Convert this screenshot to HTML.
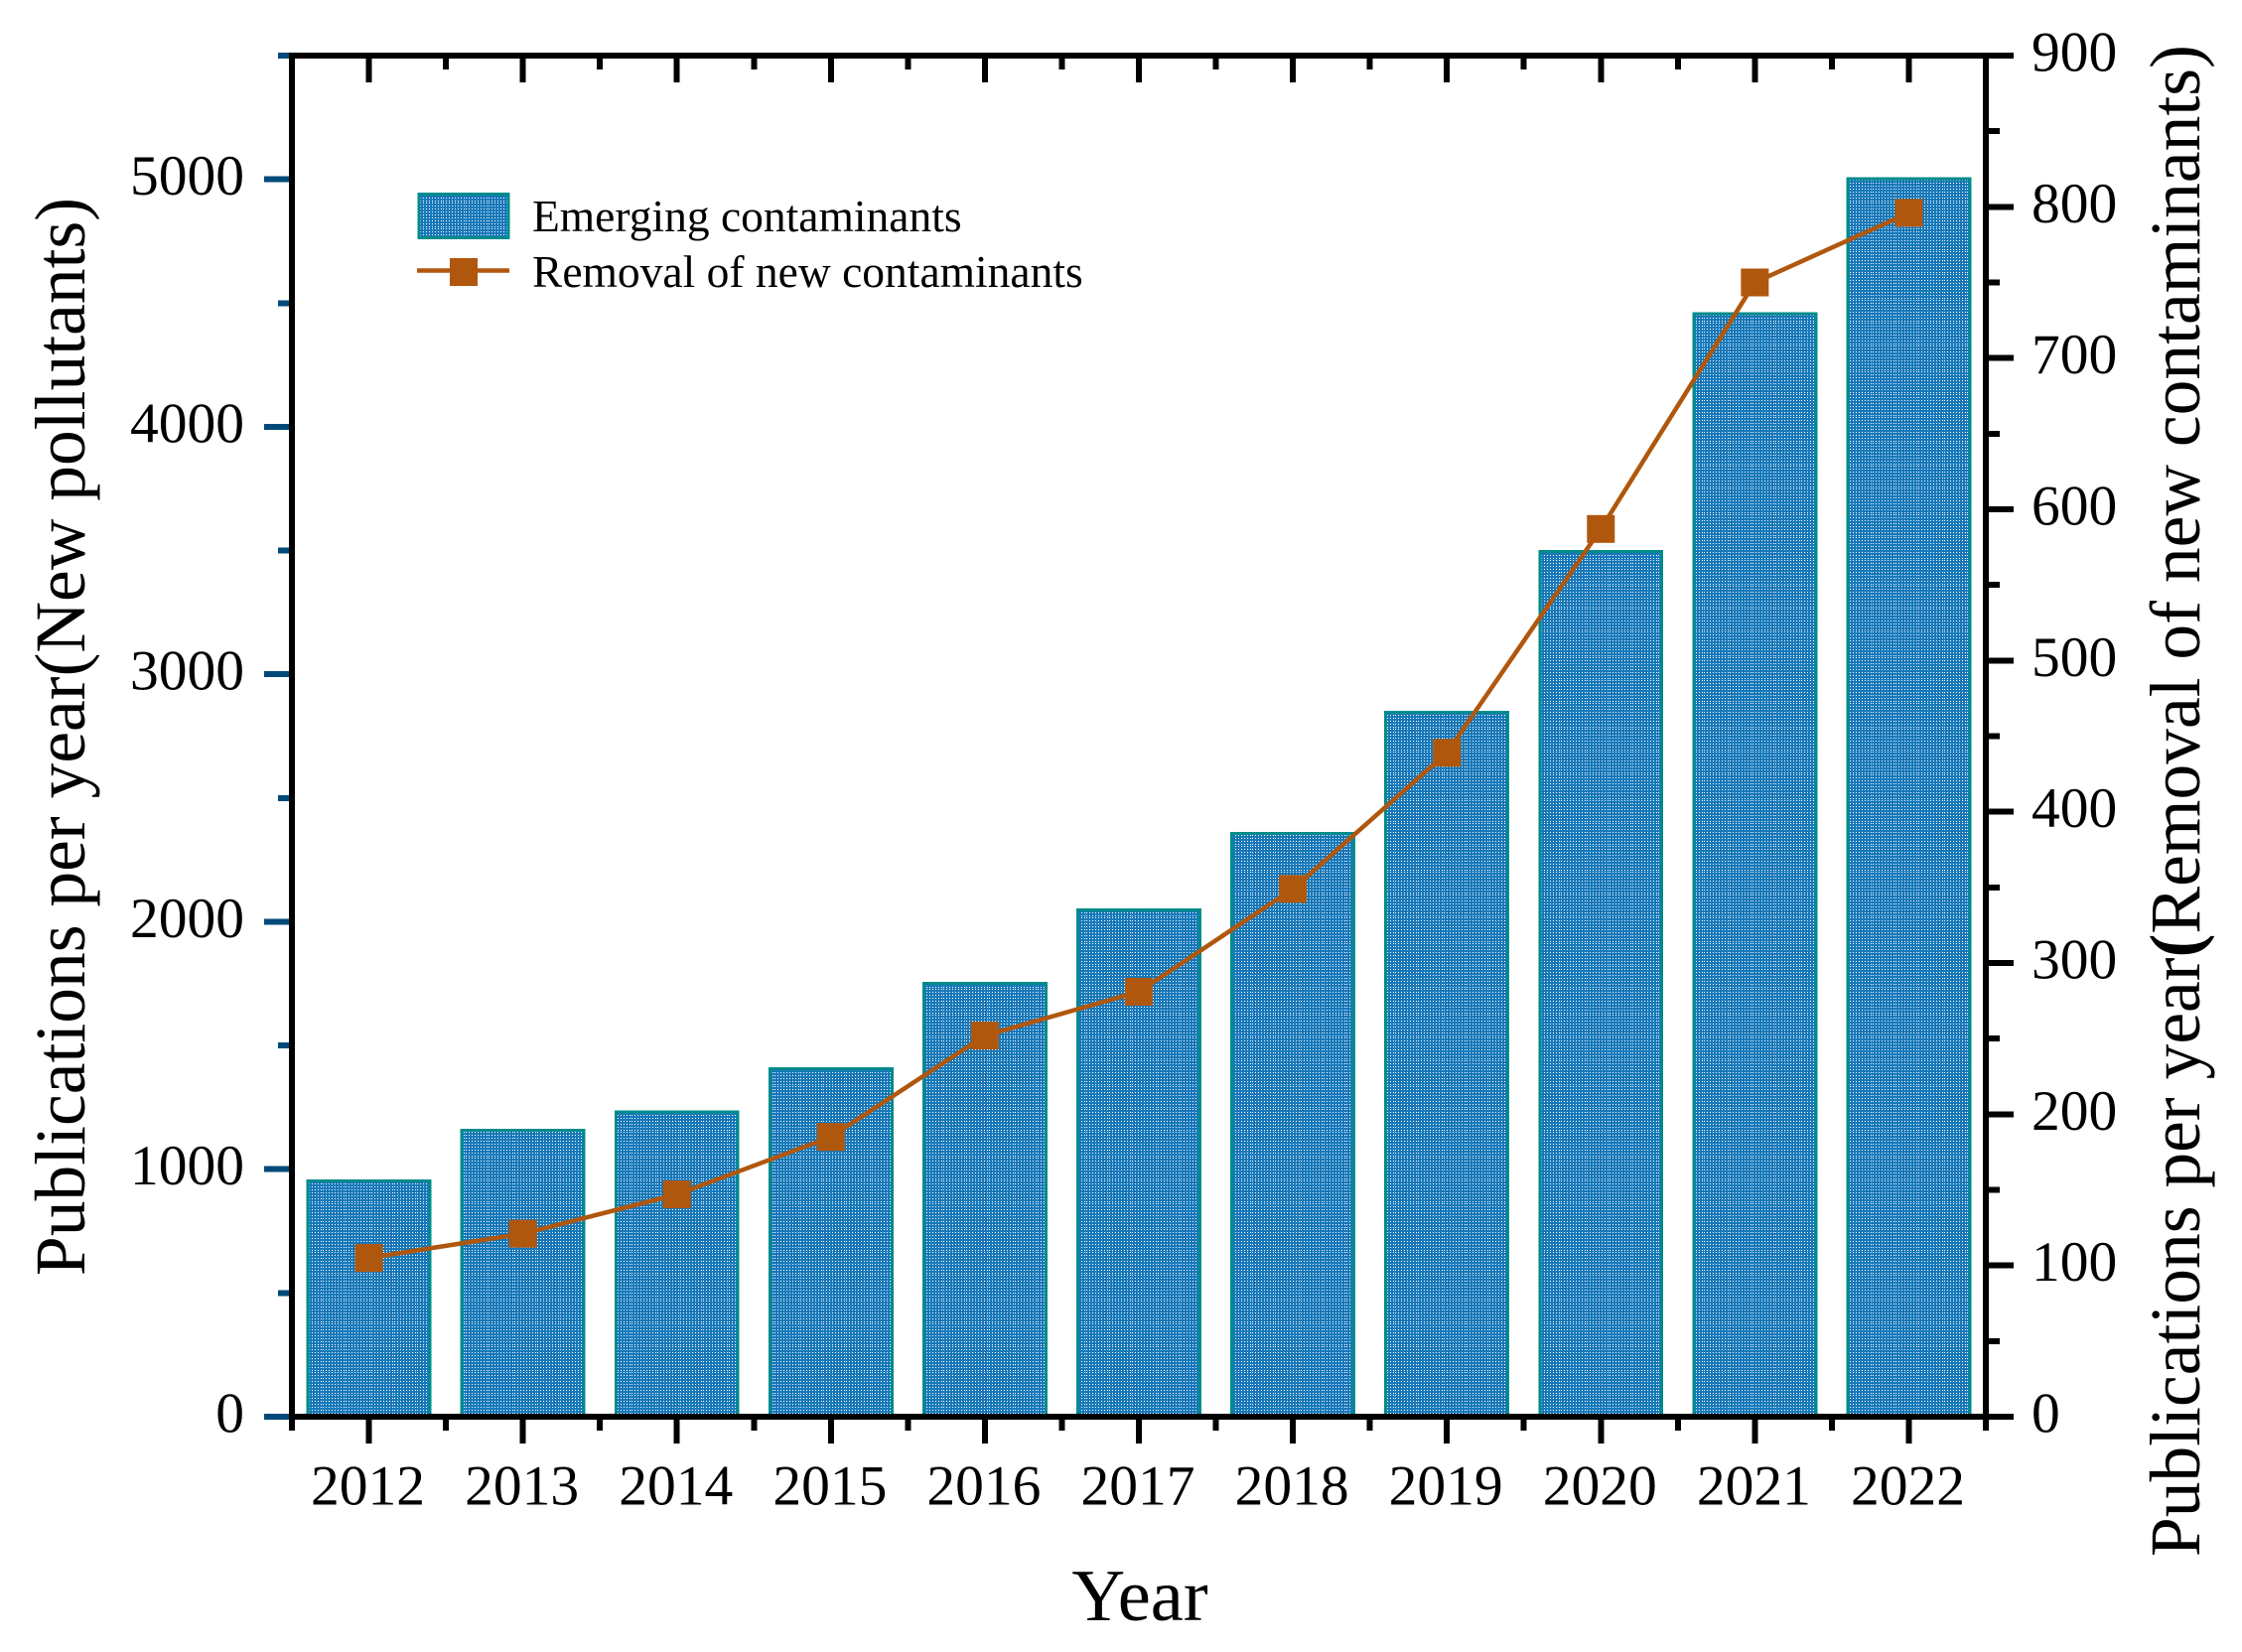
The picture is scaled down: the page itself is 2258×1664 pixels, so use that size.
<!DOCTYPE html>
<html lang="en">
<head>
<meta charset="utf-8">
<title>Publications per year</title>
<style>
html,body{margin:0;padding:0;background:#fff;width:2258px;height:1664px;overflow:hidden}
svg{display:block;font-family:"Liberation Serif","Times New Roman",serif;fill:#000}
</style>
</head>
<body>
<svg id="chart" xmlns="http://www.w3.org/2000/svg" width="2258" height="1664" viewBox="0 0 2258 1664">
  <defs>
    <pattern id="dots" x="0" y="0" width="72" height="72" patternUnits="userSpaceOnUse">
      <rect width="72" height="72" fill="#1878b9" shape-rendering="crispEdges"/>
      <path id="dot-path" fill="#ffffff" shape-rendering="crispEdges" d=""/>
    </pattern>
  </defs>
  <g id="bars"></g>
  <g id="axes"></g>
  <g id="line"></g>
  <g>
    <rect x="422" y="195.5" width="90" height="44" fill="url(#dots)" stroke="#008b8b" stroke-width="3" shape-rendering="crispEdges"/>
    <text x="536" y="233" font-size="45.5">Emerging contaminants</text>
    <line x1="420" y1="272.5" x2="513" y2="272.5" stroke="#b0570e" stroke-width="4.5"/>
    <rect x="453" y="260" width="28" height="28" fill="#b0570e"/>
    <text x="536" y="289" font-size="45.5">Removal of new contaminants</text>
  </g>
  <text x="1148" y="1632" font-size="74.5" text-anchor="middle">Year</text>
  <text transform="translate(85 1285) rotate(-90)" font-size="71.5">Publications per year(New pollutants)</text>
  <text transform="translate(2215 1568) rotate(-90)" font-size="71.5">Publications per year<tspan font-weight="bold">(</tspan>Removal of new contaminants)</text>
</svg>
<script>
var years = [2012, 2013, 2014, 2015, 2016, 2017, 2018, 2019, 2020, 2021, 2022];
var emergingContaminants = [958, 1163, 1238, 1413, 1758, 2053, 2363, 2853, 3503, 4463, 5008];
var removalOfNewContaminants = [105, 121, 147, 185, 252, 281, 349, 439, 587, 750, 796];
var leftTicks = [0, 1000, 2000, 3000, 4000, 5000];
var leftMinorTicks = [500, 1500, 2500, 3500, 4500, 5500];
var rightTicks = [0, 100, 200, 300, 400, 500, 600, 700, 800, 900];
var rightMinorTicks = [50, 150, 250, 350, 450, 550, 650, 750, 850];

var NS = 'http://www.w3.org/2000/svg';
var plotLeft = 294, plotRight = 2000, plotTop = 56, plotBottom = 1427;
function xScale(year) { return plotLeft + (year - 2011.5) / 11 * (plotRight - plotLeft); }
function yLeft(v) { return plotBottom - v / 5500 * (plotBottom - plotTop); }
function yRight(v) { return plotBottom - v / 900 * (plotBottom - plotTop); }
function make(tag, attrs, parent) {
  var el = document.createElementNS(NS, tag);
  for (var k in attrs) el.setAttribute(k, attrs[k]);
  parent.appendChild(el);
  return el;
}

/* halftone dot tile: 25 one-pixel dots across 72px, snapped to the pixel grid */
var dotD = '';
for (var r = 0; r < 25; r++) {
  for (var c = 0; c < 25; c++) {
    dotD += 'M' + Math.round(c * 2.88) + ' ' + Math.round(r * 2.88) + 'h1v1h-1z';
  }
}
document.getElementById('dot-path').setAttribute('d', dotD);

var barsG = document.getElementById('bars');
var axesG = document.getElementById('axes');
var lineG = document.getElementById('line');
var barWidth = 0.812 * (xScale(2013) - xScale(2012));

years.forEach(function (yr, i) {
  var top = yLeft(emergingContaminants[i]);
  var bar = make('rect', {
    x: xScale(yr) - barWidth / 2 + 1.5, y: top + 1.5,
    width: barWidth - 3, height: plotBottom - top - 1.5,
    fill: 'url(#dots)', stroke: '#008b8b', 'stroke-width': 3, 'shape-rendering': 'crispEdges'
  }, barsG);
  
  
});

function stroke(x1, y1, x2, y2, color, name) {
  var l = make('line', { x1: x1, y1: y1, x2: x2, y2: y2, stroke: color, 'stroke-width': 6, 'shape-rendering': 'crispEdges' }, axesG);
  
  
  return l;
}
function label(x, y, text, anchor, name) {
  var t = make('text', { x: x, y: y, 'font-size': 57.5, 'text-anchor': anchor }, axesG);
  t.textContent = text;
  
  
  return t;
}
var leftColor = '#004a7a';

leftTicks.forEach(function (v) {
  stroke(266, yLeft(v), plotLeft, yLeft(v), leftColor, 'left-major-tick-' + v);
  label(246, yLeft(v) + 15.5, String(v), 'end', 'left-tick-label-' + v);
});
leftMinorTicks.forEach(function (v) {
  stroke(280, yLeft(v), plotLeft, yLeft(v), leftColor, 'left-minor-tick-' + v);
});
rightTicks.forEach(function (v) {
  stroke(plotRight, yRight(v), 2028, yRight(v), '#000', 'right-major-tick-' + v);
  label(2046, yRight(v) + 15.5, String(v), 'start', 'right-tick-label-' + v);
});
rightMinorTicks.forEach(function (v) {
  stroke(plotRight, yRight(v), 2014, yRight(v), '#000', 'right-minor-tick-' + v);
});
years.forEach(function (yr) {
  var x = xScale(yr);
  var half = (xScale(2013) - xScale(2012)) / 2;
  stroke(x, plotBottom, x, 1454, '#000', 'bottom-major-tick-' + yr);
  stroke(x, plotTop, x, 83, '#000', 'top-major-tick-' + yr);
  label(x - 1, 1515.5, String(yr), 'middle', 'x-tick-label-' + yr);
  stroke(x - half, plotBottom, x - half, 1441, '#000', 'bottom-minor-tick-' + yr);
  stroke(x - half, plotTop, x - half, 70, '#000', 'top-minor-tick-' + yr);
});
stroke(plotRight, plotBottom, plotRight, 1441, '#000', 'bottom-minor-tick-end');
stroke(plotLeft, 53, plotLeft, 1430, '#000', 'left-axis-line');
stroke(plotRight, 53, plotRight, 1430, '#000', 'right-axis-line');
stroke(plotLeft - 3, plotTop, 2028, plotTop, '#000', 'top-axis-line');
stroke(plotLeft - 3, plotBottom, 2028, plotBottom, '#000', 'bottom-axis-line');

var pts = years.map(function (yr, i) { return xScale(yr) + ',' + yRight(removalOfNewContaminants[i]); }).join(' ');
var poly = make('polyline', { points: pts, fill: 'none', stroke: '#b0570e', 'stroke-width': 4.5 }, lineG);


years.forEach(function (yr, i) {
  var m = make('rect', {
    x: xScale(yr) - 14, y: yRight(removalOfNewContaminants[i]) - 14,
    width: 28, height: 28, fill: '#b0570e'
  }, lineG);
  
  
});
</script>
</body>
</html>
